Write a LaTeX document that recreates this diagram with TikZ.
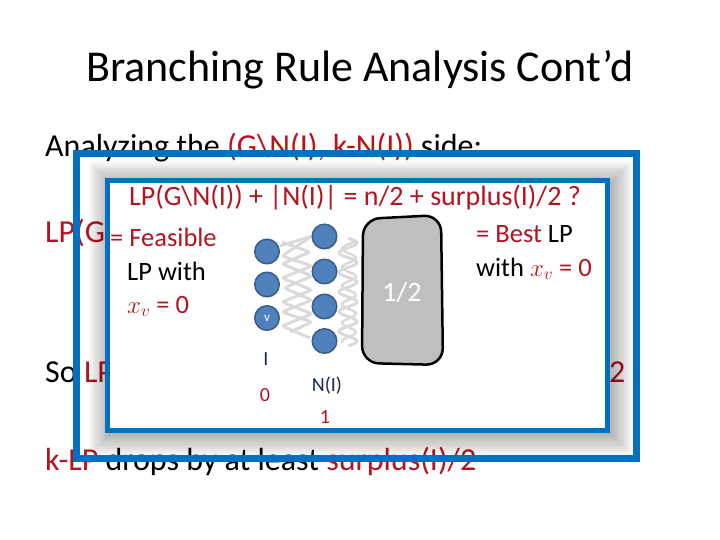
\documentclass[tikz,border=0pt]{standalone}
\usepackage{fontspec}
\setmainfont{Carlito}
\definecolor{boxblue}{RGB}{0,112,192}
\definecolor{dred}{RGB}{180,20,30}
\definecolor{navy}{RGB}{25,40,85}
\definecolor{nodefill}{RGB}{79,129,189}
\definecolor{nodedraw}{RGB}{56,93,138}
\definecolor{zigcol}{RGB}{218,218,218}
\definecolor{blobcol}{RGB}{191,191,191}
\newcommand\fsz[1]{\fontsize{#1}{#1}\selectfont}
\begin{document}
\begin{tikzpicture}[x=1pt,y=-1pt,
  txt/.style={inner sep=0pt, anchor=base west},
  vtx/.style={circle, fill=nodefill, draw=nodedraw, line width=1.5pt, minimum size=24.5pt, inner sep=0pt},
  zigline/.style={draw=zigcol, line width=3pt, rounded corners=3pt},
  lbl/.style={inner sep=0pt}]
\useasboundingbox (0,0) rectangle (720,540);
\fill[white] (0,0) rectangle (720,540);
% title
\node[inner sep=0pt, anchor=base] (title) at (360,82) {\fsz{44}Branching Rule Analysis Cont’d};
% background slide text
\node[txt] (line1) at (45,157) {\fsz{32}Analyzing the \textcolor{dred}{(G\textbackslash N(I), k-N(I))} side:};
\node[txt, text=dred] (line2) at (45,243) {\fsz{32}LP(G};
\node[txt] (line3) at (45,382) {\fsz{32}So \textcolor{dred}{LP}};
\node[txt, text=dred] (line3r) at (609,382) {\fsz{32}2};
\node[txt] (line4) at (45,470) {\fsz{32}\textcolor{dred}{k-LP} drops by at least \textcolor{dred}{surplus(I)/2}};
% shadow of inner box
\foreach \i in {1,...,10}
  \fill[black, opacity=0.032] ({110.5-2.2*\i},{183.5-2.2*\i}) rectangle ({610.5+2.2*\i},{433.5+2.2*\i});
% inner box
\node[draw=boxblue, line width=5pt, fill=white, minimum width=500pt, minimum height=250pt, inner sep=0pt] (inner) at (357.5,305.5) {};
% outer box
\node[draw=boxblue, line width=7pt, minimum width=560pt, minimum height=305pt, inner sep=0pt] (outer) at (356.5,306) {};
% inner texts
\node[inner sep=0pt, anchor=base, text=dred] (eq) at (355,206) {\fsz{28}LP(G\textbackslash N(I)) + |N(I)| = n/2 + surplus(I)/2 ?};
\node[txt, text=dred] (feas) at (110,246.5) {\fsz{26.5}= Feasible};
\node[txt] (lpw) at (127,280) {\fsz{26.5}LP with};
\node[txt, text=dred] (xv0) at (127,313) {\fsz{26.5}$x_v$ = 0};
\node[txt] (best) at (476,243) {\fsz{26.5}\textcolor{dred}{= Best} LP};
\node[txt] (withx) at (476,276) {\fsz{26.5}with \textcolor{dred}{$x_v$ = 0}};
% zigzags
\draw[zigline] (280,246) -- (312,236) -- (282,256) -- (312,266) -- (282,278) -- (312,290) -- (282,302) -- (312,314) -- (282,326) -- (310,338);
\draw[zigline] (282,242) -- (310,252) -- (282,264) -- (312,276) -- (284,288) -- (312,300) -- (282,312) -- (312,322) -- (290,332);
\draw[draw=zigcol, line width=3pt] plot[smooth, samples=80, domain=0:1] ({348+9*sin(\x*5.5*360)}, {238+\x*108});
\draw[draw=zigcol, line width=2.5pt] plot[smooth, samples=80, domain=0:1] ({349+7*sin(\x*5.5*360+120)}, {241+\x*102});
% blob
\path[draw=black, line width=2.5pt, fill=blobcol, rounded corners=17pt] (363,219) -- (441,215) -- (443,365) -- (362,363) -- cycle;
\node[lbl, text=white] (half) at (402,292) {\fsz{28}1/2};
% vertices
\node[vtx] (i1) at (267,251.5) {};
\node[vtx] (i2) at (267,284.5) {};
\node[vtx, text=white, font=\fsz{13}] (i3) at (267,318) {v};
\node[vtx] (n1) at (324.5,236.5) {};
\node[vtx] (n2) at (324.5,271.5) {};
\node[vtx] (n3) at (324.5,306.5) {};
\node[vtx] (n4) at (324.5,341) {};
% labels
\node[lbl, text=navy] (labI) at (266,359) {\fsz{20}I};
\node[lbl, text=dred] (lab0) at (265,395) {\fsz{20}0};
\node[lbl, text=navy] (labN) at (327,386) {\fsz{20}N(I)};
\node[lbl, text=dred] (lab1) at (325,417) {\fsz{20}1};
\end{tikzpicture}
\end{document}
